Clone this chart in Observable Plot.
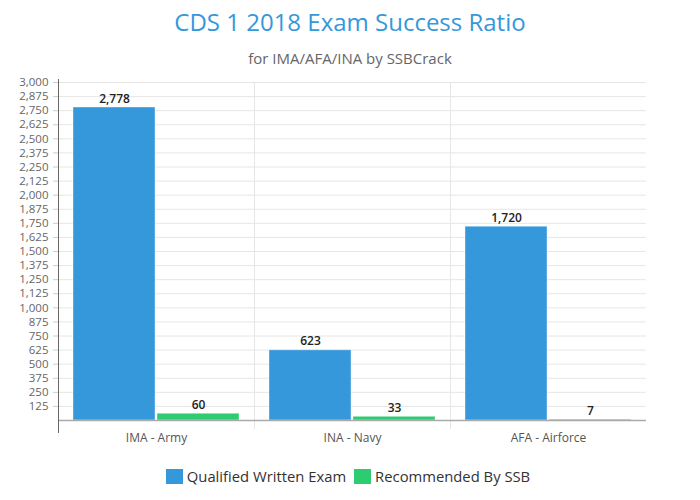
<!DOCTYPE html>
<html>
<head>
<meta charset="utf-8">
<script src="https://cdn.jsdelivr.net/npm/d3@7"></script>
<script src="https://cdn.jsdelivr.net/npm/@observablehq/plot@0.6"></script>
<style>
  body { margin: 0; background: #fff; font-family: "Open Sans", sans-serif; }
  #wrap { width: 700px; }
  .title { text-align: center; font-size: 24px; line-height: 30px; color: #3498db; padding-top: 7px; }
  .subtitle { text-align: center; font-size: 15px; line-height: 20px; color: #666; margin-top: 11px; }
  .legend { display: flex; justify-content: center; align-items: center; margin-top: 16px; font-size: 14.8px; color: #333; padding-right: 4px; }
  .legend .item { display: flex; align-items: center; margin: 0 4px; }
  .legend .sw { width: 17px; height: 15px; margin-right: 4px; }
  svg { display: block; }
</style>
</head>
<body>
<div id="wrap">
  <div class="title">CDS 1 2018 Exam Success Ratio</div>
  <div class="subtitle">for IMA/AFA/INA by SSBCrack</div>
  <div id="chart"></div>
  <div class="legend" id="legend"></div>
</div>
<script>
const categories = ["IMA - Army", "INA - Navy", "AFA - Airforce"];
const series = ["Qualified Written Exam", "Recommended By SSB"];
const qualified = [2778, 623, 1720];
const recommended = [60, 33, 7];
const colors = ["#3498db", "#2ecc71"];
const yTicks = d3.range(125, 3001, 125);
const gridTicks = d3.range(0, 3001, 125);

const rows = categories.flatMap((c, i) => [
  {category: c, series: series[0], value: qualified[i]},
  {category: c, series: series[1], value: recommended[i]}
]);
const fmt = d3.format(",");

const chart = Plot.plot({
  width: 700,
  height: 382,
  marginLeft: 57,
  marginRight: 54,
  marginTop: 14,
  marginBottom: 30,
  style: {fontFamily: "Open Sans", fontSize: "11px", color: "#666", background: "white"},
  fx: {domain: categories, padding: 0, label: null, axis: null},
  x: {domain: series, paddingInner: 0.024, paddingOuter: 0.178, axis: null},
  y: {domain: [0, 3000], axis: null},
  color: {domain: series, range: colors},
  marks: [
    Plot.ruleY(gridTicks, {stroke: "#e6e6e6", strokeWidth: 1}),
    Plot.frame({anchor: "left", stroke: "#e6e6e6", insetBottom: -8}),
    Plot.barY(rows, {fx: "category", x: "series", y: "value", fill: "series", stroke: "white", strokeOpacity: 0.4, strokeWidth: 1}),
    Plot.text(rows, {fx: "category", x: "series", y: "value", text: d => fmt(d.value), lineAnchor: "bottom", dy: -5, fontSize: 12, fontWeight: 600, fill: "#222"}),
    Plot.ruleY([0], {stroke: "#aaa", strokeWidth: 1.5}),
    Plot.frame({anchor: "left", stroke: "#666", fx: [categories[0]], insetBottom: -12, insetTop: -3}),
    Plot.axisY(yTicks, {tickSize: 5, tickPadding: 5, stroke: "#ccc", fill: "#666", tickFormat: fmt, label: null, fontSize: 11.5}),
    Plot.axisFx({anchor: "bottom", tickSize: 0, tickPadding: 13, label: null, fontSize: 12, fill: "#555"})
  ]
});
document.getElementById("chart").appendChild(chart);

const legend = document.getElementById("legend");
series.forEach((s, i) => {
  const item = document.createElement("div");
  item.className = "item";
  const sw = document.createElement("div");
  sw.className = "sw";
  sw.style.background = colors[i];
  const t = document.createElement("span");
  t.textContent = s;
  item.appendChild(sw);
  item.appendChild(t);
  legend.appendChild(item);
});
</script>
</body>
</html>
